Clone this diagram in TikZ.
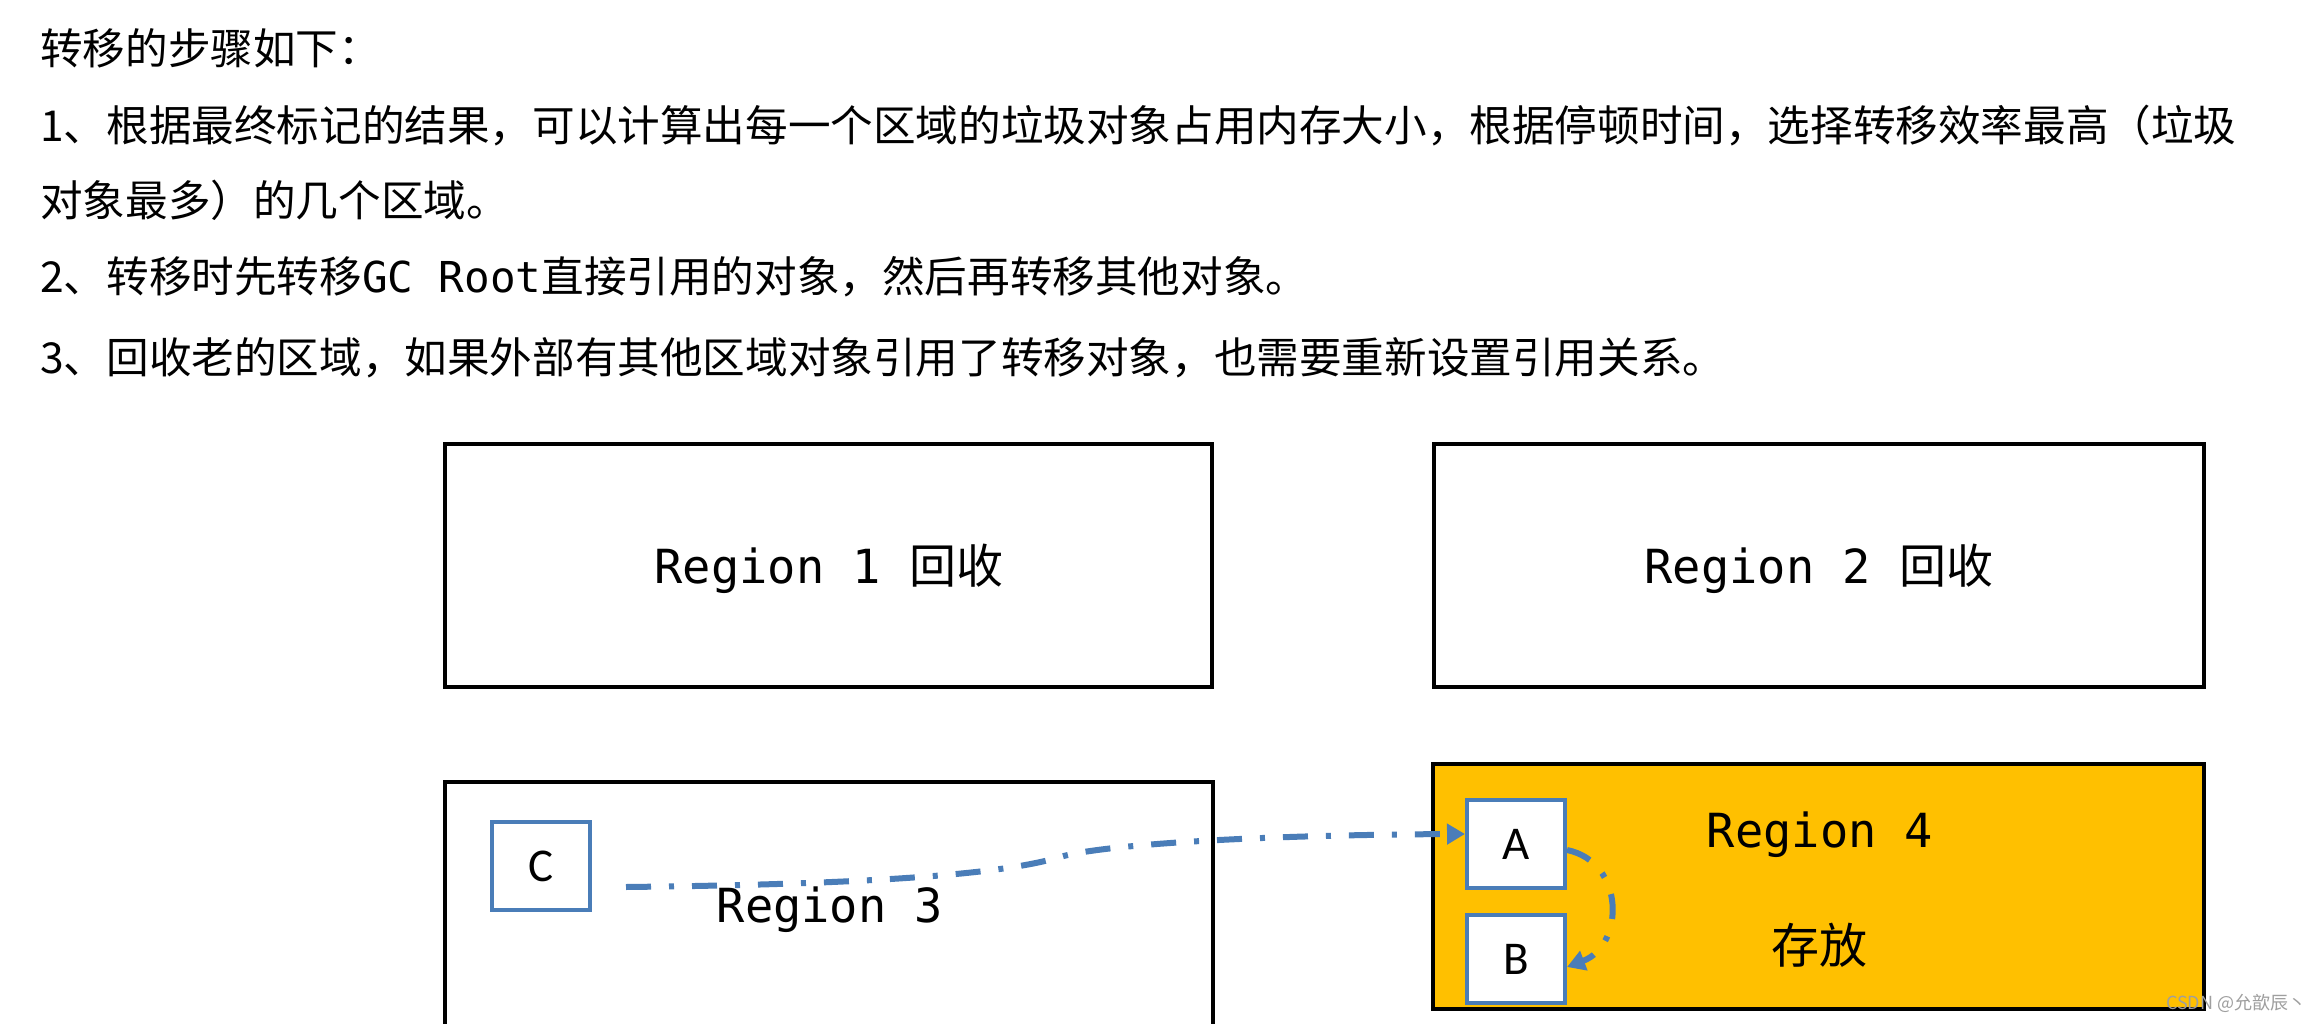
\documentclass[tikz,border=0pt]{standalone}
\usepackage{fontspec}
\setmainfont{Noto Sans CJK SC}
\newfontfamily\monof{DejaVu Sans Mono}
\newfontfamily\cjkf{Noto Sans CJK SC}
\newfontfamily\latf{Carlito}
\usetikzlibrary{arrows.meta}
\definecolor{objblue}{HTML}{4A7DB8}
\definecolor{regyellow}{HTML}{FFC000}
\begin{document}
\begin{tikzpicture}[x=1pt,y=-1pt,
  txt/.style={anchor=base west,inner sep=0pt,font=\fontsize{42.6pt}{50pt}\selectfont},
  regionbox/.style={draw=black,line width=4.5pt,inner sep=0pt},
  lbl/.style={anchor=base,inner sep=0pt,font=\monof\fontsize{47pt}{50pt}\selectfont},
  obj/.style={draw=objblue,line width=4pt,fill=white,minimum width=98pt,minimum height=88pt,inner sep=0pt,font=\latf\fontsize{47pt}{50pt}\selectfont},
  flow/.style={draw=objblue,line width=6pt,dash pattern=on 25pt off 18pt on 5pt off 18pt,-{Triangle[length=18pt,width=20pt]}}]
\useasboundingbox (0,0) rectangle (2313,1024);
\fill[white] (0,0) rectangle (2313,1024);
\clip (0,0) rectangle (2313,1024);

% text lines
\node[txt] (t0) at (40,65) {转移的步骤如下：};
\node[txt] (t1) at (40,142) {1、根据最终标记的结果，可以计算出每一个区域的垃圾对象占用内存大小，根据停顿时间，选择转移效率最高（垃圾};
\node[txt] (t2) at (40,217) {对象最多）的几个区域。};
\node[txt] (t3) at (40,293) {2、转移时先转移{\monof GC Root}直接引用的对象，然后再转移其他对象。};
\node[txt] (t4) at (40,373) {3、回收老的区域，如果外部有其他区域对象引用了转移对象，也需要重新设置引用关系。};

% regions
\node[regionbox,minimum width=767pt,minimum height=243pt] (r1) at (828.5,565.5) {};
\node[regionbox,minimum width=770pt,minimum height=243pt] (r2) at (1819,565.5) {};
\node[regionbox,minimum width=768pt,minimum height=278pt] (r3) at (829,921) {};
\node[regionbox,fill=regyellow,minimum width=771pt,minimum height=245pt] (r4) at (1818.5,886.5) {};

\node[lbl] (l1) at (829,583) {Region 1 {\cjkf 回收}};
\node[lbl] (l2) at (1819,583) {Region 2 {\cjkf 回收}};
\node[lbl] (l3) at (830,922) {Region 3};
\node[lbl] (l4) at (1820,847) {Region 4};
\node[anchor=base,inner sep=0pt,font=\cjkf\fontsize{48pt}{50pt}\selectfont] (l5) at (1819,963) {存放};

% objects
\node[obj] (C) at (541,866) {C};
\node[obj] (A) at (1516,844) {A};
\node[obj] (B) at (1516,959) {B};

% connectors
\draw[flow] ([xshift=34pt,yshift=-21pt]C.east) .. controls (900,884) and (1010,872) .. (1060,857) .. controls (1100,845) and (1250,835) .. ([yshift=10pt]A.west);
\draw[flow] ([yshift=-6pt]A.east) .. controls (1625,862) and (1625,945) .. ([yshift=-8pt]B.east);

% watermark
\node[anchor=west,inner sep=0pt,text=gray!75,font=\cjkf\fontsize{18pt}{20pt}\selectfont] (wm) at (2166,1003) {CSDN @允歆辰丶};
\end{tikzpicture}
\end{document}
